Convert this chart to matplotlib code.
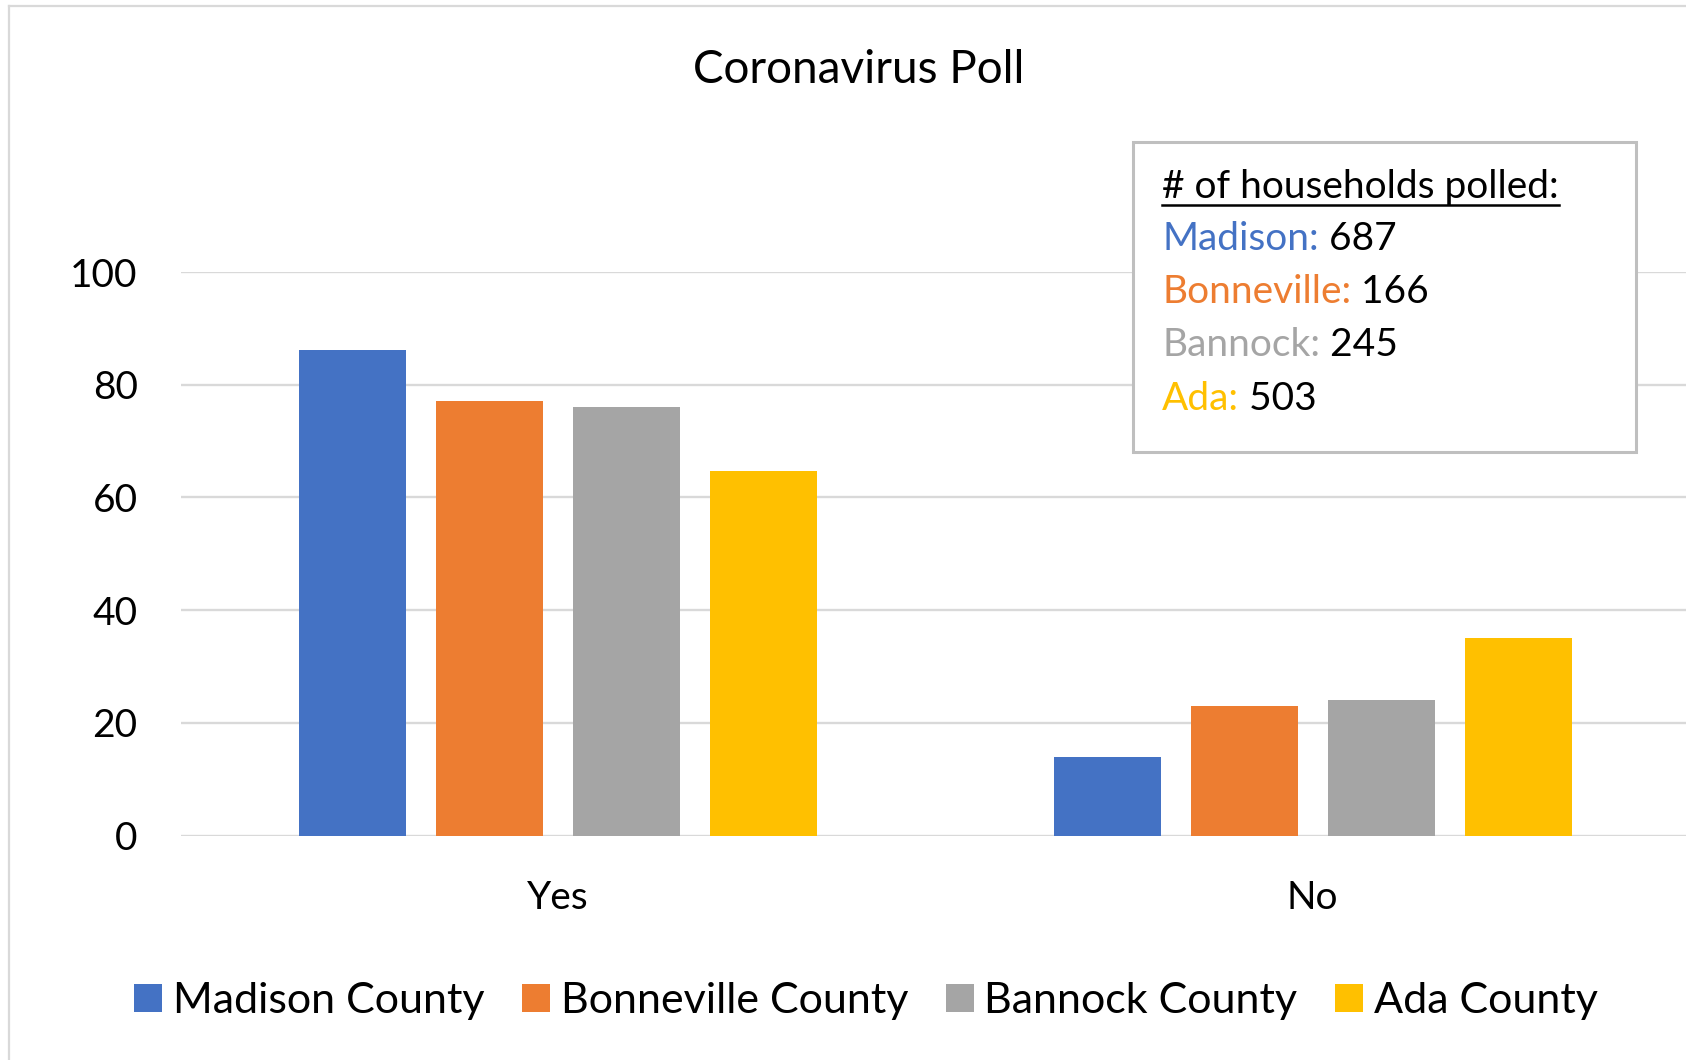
import matplotlib
matplotlib.use("Agg")
import matplotlib.pyplot as plt
from matplotlib.lines import Line2D
from matplotlib.patches import Rectangle
from matplotlib.text import Annotation
import numpy as np

plt.rcParams['font.family'] = ['Lato', 'DejaVu Sans']

categories = ["Yes", "No"]
series_names = ["Madison County", "Bonneville County", "Bannock County", "Ada County"]
madison = [86.1, 13.9]
bonneville = [77.1, 22.9]
bannock = [76.0, 24.0]
ada = [64.6, 35.0]
colors = ["#4472C4", "#ED7D31", "#A5A5A5", "#FFC000"]
yticks = [0, 20, 40, 60, 80, 100]
title = "Coronavirus Poll"
box_header = "# of households polled:"
box_names = ["Madison:", "Bonneville:", "Bannock:", "Ada:"]
box_counts = ["687", "166", "245", "503"]

W, H = 1686, 1060
fig = plt.figure(figsize=(W / 100, H / 100), dpi=100)
fig.patch.set_facecolor("white")

x0, x1 = 180.7, 1690.0
yb, yt = 835.5, 272.0
ax = fig.add_axes([x0 / W, 1 - yb / H, (x1 - x0) / W, (yb - yt) / H])
ax.set_xlim(-0.5, 1.5)
ax.set_ylim(0, 100)

x = np.arange(len(categories))
pitch = 0.1815
width = 0.142
all_series = [madison, bonneville, bannock, ada]
handles = []
for i, (vals, name, c) in enumerate(zip(all_series, series_names, colors)):
    off = (i - 1.5) * pitch
    b = ax.bar(x + off, vals, width=width, color=c, label=name, zorder=3)
    handles.append(b)

ax.set_yticks(yticks)
ax.set_xticks(x)
ax.set_xticklabels(categories)
ax.yaxis.grid(True, color="#D9D9D9", linewidth=1.7, zorder=0)
ax.set_axisbelow(True)
for s in ax.spines.values():
    s.set_visible(False)
ax.tick_params(axis="y", length=0, pad=31, labelsize=28, labelcolor="#000000")
ax.tick_params(axis="x", length=0, pad=32, labelsize=28, labelcolor="#000000")
for lab in ax.get_yticklabels():
    lab.set_horizontalalignment("right")

# title
fig.text(859 / W, 1 - 70 / H, title, ha="center", va="center", fontsize=33, color="#000000")

# legend
leg = fig.legend(handles=handles, labels=series_names, loc="center", ncol=4,
                 bbox_to_anchor=(866 / W, 1 - 1001 / H), frameon=False,
                 fontsize=31, handlelength=0.65, handleheight=0.65,
                 handletextpad=0.25, columnspacing=0.87)

# chart outer border (left and top)
fig.add_artist(Line2D([9 / W, 9 / W], [0, 1 - 6 / H], transform=fig.transFigure,
                      color="#D9D9D9", linewidth=1.6))
fig.add_artist(Line2D([9 / W, 1], [1 - 6 / H, 1 - 6 / H], transform=fig.transFigure,
                      color="#D9D9D9", linewidth=1.6))

# annotation box
bx0, bx1, by0, by1 = 1133, 1636, 142, 452
fig.add_artist(Rectangle((bx0 / W, 1 - by1 / H), (bx1 - bx0) / W, (by1 - by0) / H,
                         transform=fig.transFigure, facecolor="white",
                         edgecolor="#BFBFBF", linewidth=2.2, zorder=5))
tx = 1162 / W
fs = 28
hdr = fig.text(tx, 1 - 187 / H, box_header, ha="left", va="center", fontsize=fs,
               color="#000000", zorder=6)
line_ys = [239, 292, 345, 399]
for name, cnt, c, yy in zip(box_names, box_counts, colors, line_ys):
    t1 = fig.text(tx, 1 - yy / H, name, ha="left", va="center", fontsize=fs, color=c, zorder=6)
    fig.add_artist(Annotation(" " + cnt, xy=(1, 0), xycoords=t1,
                              ha="left", va="bottom", fontsize=fs,
                              color="#000000", zorder=6))

fig.canvas.draw()
r = fig.canvas.get_renderer()
bb = hdr.get_window_extent(renderer=r)
uy = 1 - 205 / H
fig.add_artist(Line2D([bb.x0 / W, bb.x1 / W], [uy, uy], transform=fig.transFigure,
                      color="#000000", linewidth=1.8, zorder=7))

fig.savefig("out.png", dpi=100)
